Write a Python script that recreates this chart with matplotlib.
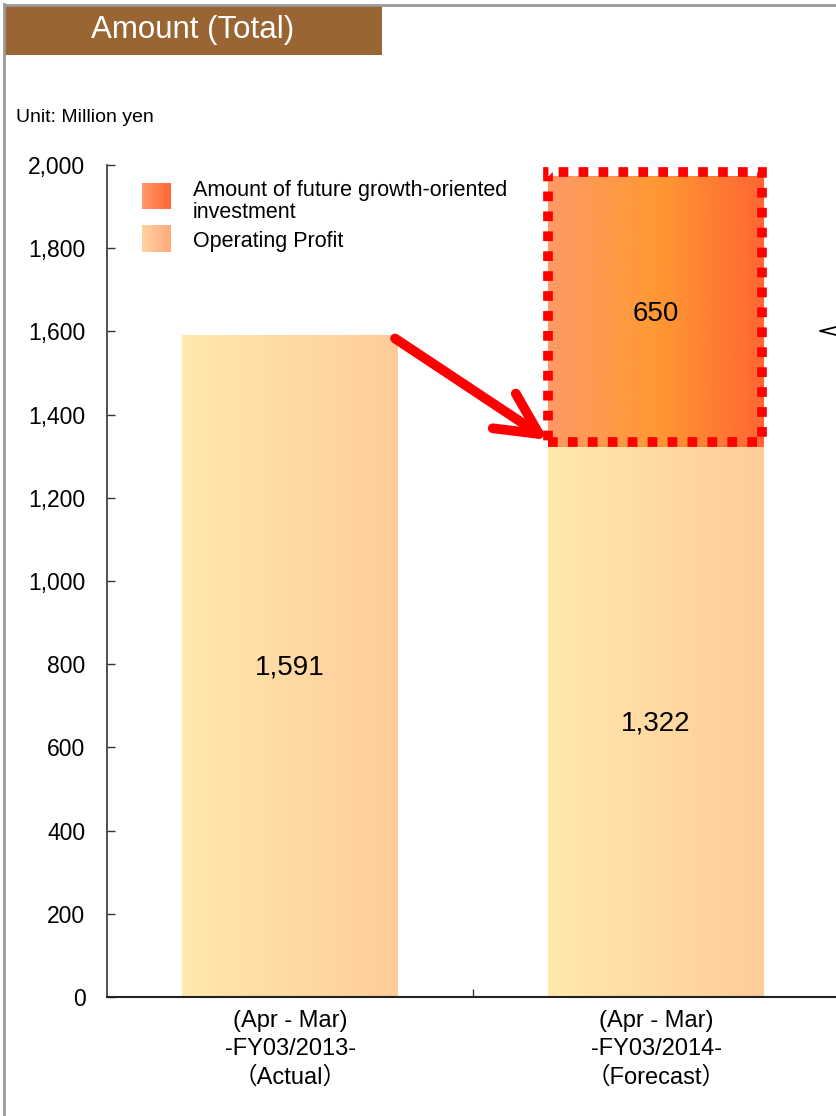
import numpy as np
import matplotlib
matplotlib.use("Agg")
import matplotlib.pyplot as plt
from matplotlib.colors import LinearSegmentedColormap
from matplotlib.patches import Rectangle, FancyArrowPatch
from matplotlib.lines import Line2D

plt.rcParams['font.family'] = ['Liberation Sans', 'Noto Sans CJK JP', 'DejaVu Sans']

# ---------------- data ----------------
categories = ["(Apr - Mar)\n-FY03/2013-\n\uff08Actual\uff09",
              "(Apr - Mar)\n-FY03/2014-\n\uff08Forecast\uff09"]
operating_profit = [1591, 1322]
growth_investment = [0, 650]
series_labels = ["Amount of future growth-oriented\ninvestment", "Operating Profit"]
y_ticks = [0, 200, 400, 600, 800, 1000, 1200, 1400, 1600, 1800, 2000]
title_text = "Amount (Total)"
unit_text = "Unit: Million yen"

# ---------------- styles ----------------
W, H = 836, 1116
op_cmap = LinearSegmentedColormap.from_list("op", ["#FFE8AE", "#FFCC99"])
inv_cmap = LinearSegmentedColormap.from_list("inv", ["#FF9966", "#FF9933", "#FF6633"])
leg_inv_cmap = LinearSegmentedColormap.from_list("linv", ["#FF9A6A", "#FF6633"])
leg_op_cmap = LinearSegmentedColormap.from_list("lop", ["#FFD3A3", "#FFAA7A"])
grad = np.linspace(0, 1, 256)[None, :]

def fx(px):
    return px / W

def fy(py):
    return 1 - py / H

fig = plt.figure(figsize=(W / 100, H / 100), dpi=100)
fig.patch.set_facecolor("white")

ax = fig.add_axes([fx(107), fy(997), 732 / W, 832 / H])
x = np.arange(len(categories))
bar_w = 0.59

op_bars = ax.bar(x, operating_profit, width=bar_w, color="none", edgecolor="none", zorder=2)
inv_bars = ax.bar(x, growth_investment, width=bar_w, bottom=operating_profit,
                  color="none", edgecolor="none", zorder=2)

for b, v in zip(op_bars, operating_profit):
    x0, w, y0, h = b.get_x(), b.get_width(), b.get_y(), b.get_height()
    ax.imshow(grad, cmap=op_cmap, extent=[x0, x0 + w, y0, y0 + h], aspect="auto",
              zorder=2, interpolation="bicubic")
    ax.text(x0 + w / 2, y0 + h / 2 - 4, f"{v:,}", ha="center", va="center",
            fontsize=20, color="black", zorder=5)

for b, v in zip(inv_bars, growth_investment):
    if v <= 0:
        continue
    x0, w, y0, h = b.get_x(), b.get_width(), b.get_y(), b.get_height()
    ax.imshow(grad, cmap=inv_cmap, extent=[x0, x0 + w, y0, y0 + h], aspect="auto",
              zorder=2, interpolation="bicubic")
    ax.text(x0 + w / 2, y0 + h / 2 - 6, f"{v:,}", ha="center", va="center",
            fontsize=20, color="black", zorder=5)
    ax.add_patch(Rectangle((x0, y0 + 12), w - 0.005, h, fill=False, edgecolor="#FF0000",
                           lw=7, linestyle=(0, (1.0, 1.05)), capstyle="butt", zorder=4))

# arrow from actual bar top to forecast bar
b1, b2 = op_bars[0], op_bars[1]
start = (b1.get_x() + b1.get_width() - 0.008, operating_profit[0] - 8)
end = (b2.get_x(), operating_profit[1] + 17)
arr = FancyArrowPatch(start, end, arrowstyle="->,head_length=30,head_width=15",
                      mutation_scale=1, lw=7, color="#FF0000", shrinkA=0, shrinkB=0,
                      capstyle="round", joinstyle="round", zorder=6)
ax.add_patch(arr)

ax.set_xlim(-0.5, 1.5)
ax.set_ylim(0, 2000)
ax.set_yticks(y_ticks)
ax.set_yticklabels([f"{t:,}" for t in y_ticks], fontsize=16.5)
ax.tick_params(axis="y", direction="in", length=6, width=1, color="#333333", pad=15.5)
ax.set_xticks(x)
ax.set_xticklabels(categories, fontsize=17, linespacing=1.38)
ax.tick_params(axis="x", length=0, pad=9)
ax.set_xticks([0.5], minor=True)
ax.tick_params(axis="x", which="minor", direction="in", length=6, width=1, color="#333333")
for s in ["top", "right"]:
    ax.spines[s].set_visible(False)
ax.spines["left"].set_color("#333333")
ax.spines["bottom"].set_color("#222222")
ax.spines["left"].set_linewidth(1.2)
ax.spines["bottom"].set_linewidth(1.5)
ax.set_facecolor("white")

# legend (manual, gradient swatches)
for (top, bot), cm in zip([(183, 209), (225, 252)], [leg_inv_cmap, leg_op_cmap]):
    lax = fig.add_axes([fx(142), fy(bot), 29 / W, (bot - top) / H])
    lax.imshow(grad, cmap=cm, aspect="auto", interpolation="bicubic")
    lax.set_axis_off()
fig.text(fx(193), fy(180), series_labels[0], fontsize=15.5, ha="left", va="top",
         linespacing=1.08)
fig.text(fx(193), fy(241), series_labels[1], fontsize=15.5, ha="left", va="center")

# frame, title box, unit
fig.add_artist(Line2D([fx(4), fx(4)], [fy(4), 0], transform=fig.transFigure,
                      color="#999999", lw=2))
fig.add_artist(Line2D([fx(4), 1], [fy(5), fy(5)], transform=fig.transFigure,
                      color="#999999", lw=2))
fig.add_artist(Rectangle((fx(5), fy(55)), 377 / W, 50 / H, transform=fig.transFigure,
                         facecolor="#996633", edgecolor="none"))
fig.text(fx(193), fy(30), title_text, color="white", fontsize=22.5, ha="center", va="center")
fig.text(fx(16), fy(117), unit_text, fontsize=14, ha="left", va="center")

# partial callout mark at right edge
fig.add_artist(Line2D([fx(836), fx(820), fx(836)], [fy(327), fy(331), fy(335)],
                      transform=fig.transFigure, color="black", lw=1.3))

fig.savefig("out.png", dpi=100)
